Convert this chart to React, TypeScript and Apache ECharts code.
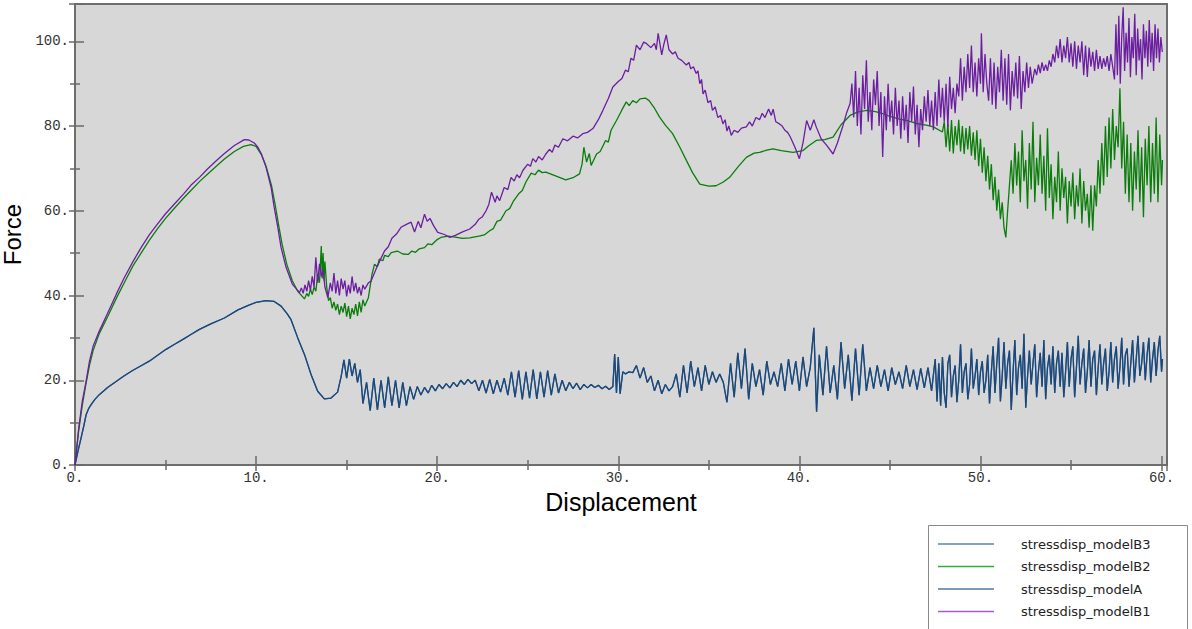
import { useEffect, useRef } from "react";
import * as echarts from "echarts";

// Displacement / force pairs for each model
const modelA: [number, number][] = [
  [0, 0], [0.15, 3], [0.33, 6.3], [0.5, 9.5], [0.61, 11.8], [0.75, 13.3], [0.9, 14.3], [1.1, 15.5], [1.34, 16.6],
  [1.8, 18.3], [2.27, 19.7], [2.7, 21], [3.18, 22.3], [3.6, 23.3], [4.1, 24.5], [4.6, 26], [5.03, 27.3], [5.5, 28.5],
  [5.94, 29.6], [6.4, 30.8], [6.87, 32], [7.5, 33.3], [8.25, 34.7], [9, 36.6], [9.54, 37.6], [10, 38.4], [10.55, 38.8],
  [11, 38.6], [11.38, 37.5], [11.7, 35.8], [11.93, 34.3], [12.3, 30], [12.67, 26.1], [13.04, 21.3], [13.4, 17.4],
  [13.77, 15.6], [14.14, 15.8], [14.5, 17.2],
  [14.7, 21], [14.85, 24.8], [15.0, 20.5], [15.15, 25], [15.3, 21], [15.45, 24], [15.6, 19.5], [15.75, 22.5],
  [15.9, 14.5], [16.1, 19.5], [16.3, 12.8], [16.5, 20.5], [16.7, 13], [16.9, 20], [17.1, 13.5], [17.3, 20.8],
  [17.5, 14], [17.7, 20], [17.9, 13.5], [18.1, 19.5], [18.3, 14],
  [18.5, 18.5], [18.7, 15.5], [18.9, 18.5], [19.1, 16.5], [19.3, 18.3], [19.5, 17], [19.7, 18.8], [19.9, 17.5],
  [20.1, 19], [20.3, 18], [20.5, 19.2], [20.7, 18.2], [20.9, 19.5], [21.1, 18.5], [21.3, 20], [21.5, 19],
  [21.7, 20.2], [21.9, 19.2], [22.1, 20],
  [22.3, 17.5], [22.5, 20], [22.7, 17], [22.9, 20.2], [23.1, 16.8], [23.3, 20], [23.5, 17.2], [23.7, 20.5], [23.9, 16.5],
  [24.1, 22], [24.3, 16], [24.5, 22.3], [24.7, 15.5], [24.9, 22], [25.1, 15.8], [25.3, 22.5], [25.5, 15.6],
  [25.7, 22], [25.9, 16], [26.1, 22.3], [26.3, 16.5], [26.5, 21.5], [26.7, 17],
  [26.9, 20], [27.1, 17.5], [27.3, 19.5], [27.5, 18], [27.7, 19.3], [27.9, 17.8], [28.1, 19], [28.3, 18.2],
  [28.5, 19], [28.7, 18.3], [28.9, 18.8], [29.1, 18], [29.3, 18.6], [29.5, 17.8], [29.7, 18.5],
  [29.8, 26.2], [29.9, 17], [30.0, 25.5], [30.1, 16.8], [30.25, 22], [30.4, 21.5], [30.6, 22], [30.8, 21.8],
  [31.0, 23.5], [31.2, 20.5], [31.4, 23], [31.6, 19.5], [31.8, 21], [32.0, 17.5], [32.2, 20], [32.4, 16.8],
  [32.6, 19], [32.8, 17.5], [33.0, 18.5],
  [33.2, 21.5], [33.4, 16], [33.6, 23.5], [33.8, 17], [34.0, 24.5], [34.2, 18.5], [34.4, 23], [34.6, 17.5],
  [34.8, 23.5], [35.0, 19], [35.2, 22], [35.4, 19.5], [35.6, 21.5], [35.8, 19.5],
  [36.0, 14.8], [36.2, 24], [36.4, 16], [36.6, 26.5], [36.8, 18], [37.0, 27.5], [37.2, 15.5], [37.4, 24],
  [37.6, 18.5], [37.8, 22.5], [38.0, 16.5], [38.2, 24.5], [38.4, 19], [38.6, 22],
  [38.8, 18.5], [39.0, 24], [39.2, 17.5], [39.4, 25], [39.6, 19], [39.8, 24.5], [40.0, 17.5], [40.2, 25.5],
  [40.4, 18.5], [40.6, 23], [40.8, 32.4], [40.95, 12.6], [41.1, 26],
  [41.3, 16.5], [41.5, 28], [41.7, 17], [41.9, 23.5], [42.1, 15.5], [42.3, 29], [42.5, 18], [42.7, 26],
  [42.9, 15.2], [43.1, 27.5], [43.3, 16.5], [43.5, 28.5], [43.7, 17.5], [43.9, 23],
  [44.1, 18], [44.3, 23.5], [44.5, 18.5], [44.7, 22.5], [44.9, 17.5], [45.1, 23], [45.3, 19], [45.5, 22],
  [45.7, 18], [45.9, 23.5], [46.1, 18.5], [46.3, 22.5], [46.5, 17.8], [46.7, 22.8], [46.9, 18.2], [47.1, 23],
  [47.3, 17.5],
  [47.5, 25], [47.6, 15], [47.7, 24], [47.8, 14], [47.9, 25.5], [48.0, 17], [48.1, 13.5], [48.2, 24], [48.3, 26],
  [48.4, 16], [48.5, 21], [48.6, 23.5], [48.7, 14.8], [48.8, 20], [48.9, 28.5], [49.0, 17], [49.1, 22], [49.2, 24],
  [49.3, 15.5], [49.4, 19], [49.5, 27.5], [49.6, 18], [49.7, 21], [49.8, 25], [49.9, 16.5], [50.0, 22], [50.1, 24.5],
  [50.2, 17], [50.3, 20], [50.4, 26], [50.5, 14.5], [50.6, 22], [50.7, 28], [50.8, 17], [50.9, 24], [51.0, 30],
  [51.1, 15], [51.2, 21], [51.3, 29], [51.4, 18], [51.5, 24], [51.6, 27], [51.7, 13], [51.8, 22], [51.9, 29.5],
  [52.0, 16.5], [52.1, 23], [52.2, 26], [52.3, 18], [52.4, 31], [52.5, 13.5], [52.6, 21], [52.7, 27], [52.8, 19],
  [52.9, 24], [53.0, 28.5], [53.1, 16], [53.2, 22], [53.3, 26.5], [53.4, 18.5], [53.5, 29.5], [53.6, 15.5],
  [53.7, 23], [53.8, 26], [53.9, 19], [54.0, 28], [54.1, 17], [54.2, 24], [54.3, 27], [54.4, 18.5], [54.5, 26.5],
  [54.6, 16], [54.7, 22], [54.8, 29], [54.9, 18.5], [55.0, 25], [55.1, 28], [55.2, 16], [55.3, 23], [55.4, 30.5],
  [55.5, 19], [55.6, 24], [55.7, 27.5], [55.8, 17], [55.9, 22], [56.0, 29.5], [56.1, 18.5], [56.2, 25], [56.3, 27],
  [56.4, 16.5], [56.5, 23], [56.6, 28.5], [56.7, 19], [56.8, 24], [56.9, 27.5], [57.0, 17.5], [57.1, 22], [57.2, 29],
  [57.3, 19.5], [57.4, 25], [57.5, 28], [57.6, 18], [57.7, 23], [57.8, 30], [57.9, 19], [58.0, 26], [58.1, 27.5],
  [58.2, 18.5], [58.3, 24], [58.4, 29.5], [58.5, 19.5], [58.6, 25], [58.7, 30.5], [58.8, 21], [58.9, 24], [59.0, 29],
  [59.1, 20], [59.2, 26], [59.3, 30], [59.4, 19.5], [59.5, 25], [59.6, 29], [59.7, 21], [59.8, 27], [59.9, 30.5],
  [60.0, 22], [60.05, 25],
];

// modelB3 follows the same response as modelA and is drawn beneath it
const modelB3: [number, number][] = modelA;

const modelB2: [number, number][] = [
  [0, 0], [0.2, 8], [0.4, 14], [0.6, 19], [0.8, 23.5], [1.0, 27], [1.34, 31], [1.8, 35], [2.3, 39.5], [2.72, 43],
  [3.2, 47], [3.65, 50], [4.1, 53], [4.56, 55.8], [5, 58.2], [5.49, 60.6], [6, 63], [6.4, 64.8], [6.9, 67],
  [7.33, 68.7], [7.8, 70.5], [8.25, 72.2], [8.8, 74], [9.3, 75.2], [9.72, 75.6], [10.0, 75.2], [10.3, 73.2],
  [10.55, 70.5], [10.85, 66], [11.05, 61.5], [11.25, 56.5], [11.45, 51.8], [11.7, 47.3], [12.0, 43.5], [12.3, 41],
  [12.67, 39.2],
  [12.8, 40.5], [12.9, 39.8], [13.0, 41.5], [13.1, 40.2], [13.2, 42], [13.3, 41], [13.4, 45], [13.5, 43],
  [13.6, 51.7], [13.65, 44], [13.7, 50], [13.75, 43.5], [13.8, 48], [13.9, 42], [14.0, 38.8],
  [14.1, 39.5], [14.2, 37], [14.3, 38.5], [14.4, 36.5], [14.5, 38], [14.6, 35.5], [14.7, 37.5], [14.8, 36],
  [14.9, 38.2], [15.0, 35], [15.1, 37.5], [15.2, 34.5], [15.3, 37], [15.4, 35.5], [15.5, 38], [15.6, 35.2],
  [15.7, 38.5], [15.8, 36], [15.9, 39], [16.0, 37.5], [16.2, 39.5],
  [16.4, 45], [16.54, 47.4], [16.7, 46.8], [16.8, 48.6], [17.0, 48.2], [17.1, 49.5], [17.3, 49.2], [17.46, 50.1],
  [17.8, 50.5], [18.1, 49.8], [18.4, 49.7], [18.6, 50.5], [18.8, 50.2], [19.0, 51], [19.3, 51.3], [19.5, 52.2],
  [19.7, 52], [20.0, 53.2], [20.2, 53.7], [20.6, 54], [21.0, 53.8], [21.4, 53.5], [21.8, 53.6], [22.3, 54],
  [22.6, 54.3], [22.9, 55.3], [23.1, 55.8], [23.3, 57.5], [23.5, 57.8], [23.8, 60], [24.0, 60.5], [24.2, 62.2],
  [24.5, 64], [24.7, 64.8], [24.9, 66.8], [25.19, 68.9], [25.4, 68.5], [25.6, 69.6], [25.8, 69], [26.0, 69.1],
  [26.5, 68.3], [27.1, 67.3], [27.5, 67.8], [27.86, 68.7], [28.0, 71], [28.1, 75], [28.25, 71.5], [28.4, 73.5],
  [28.5, 70.7], [28.8, 73.4], [29.0, 74], [29.3, 76.6], [29.45, 76.2], [29.6, 79], [29.9, 81.3], [30.2, 83.8],
  [30.44, 85.7], [30.6, 84.8], [30.8, 86], [31.0, 85.5], [31.2, 86.4], [31.5, 86.6], [31.7, 86], [32.0, 84.2],
  [32.28, 82.1], [32.6, 80.2], [33.0, 78.2], [33.4, 75], [33.76, 71.9], [34.1, 69], [34.5, 66.3], [35.0, 65.8],
  [35.4, 65.9], [35.8, 66.8], [36.15, 67.9], [36.6, 70.3], [37.07, 72.6], [37.5, 73.6], [37.8, 73.8], [38.2, 74.3],
  [38.54, 74.6], [39.0, 74.2], [39.65, 73.8], [40.2, 74.2], [40.5, 75.3], [40.93, 76.6], [41.4, 76.8], [41.86, 77.4],
  [42.3, 80.3], [42.8, 82.5], [43.2, 83.3], [43.7, 83.7], [44.2, 83.4], [44.6, 82.9], [45.0, 82.3], [45.5, 81.7],
  [46.0, 81.2], [46.46, 80.6], [47.0, 80.2], [47.4, 79.8], [47.9, 78.6],
  [48.0, 81], [48.1, 75], [48.2, 80.5], [48.3, 74], [48.4, 81.4], [48.5, 73.5], [48.6, 80], [48.7, 75.5],
  [48.8, 81.5], [48.9, 74], [49.0, 80], [49.1, 73.4], [49.2, 79.5], [49.3, 74.5], [49.4, 80], [49.5, 73],
  [49.6, 78.5], [49.7, 72], [49.8, 79], [49.9, 70.5],
  [50.0, 77], [50.1, 69], [50.2, 75], [50.3, 67], [50.4, 73], [50.5, 65], [50.6, 71], [50.7, 62.5], [50.8, 68],
  [50.9, 60], [51.0, 65], [51.1, 58], [51.2, 62], [51.3, 56], [51.4, 53.7], [51.5, 60], [51.6, 66],
  [51.7, 71.9], [51.8, 64], [51.9, 76], [52.0, 66], [52.1, 74], [52.2, 62], [52.3, 79], [52.4, 67], [52.5, 72],
  [52.6, 60.5], [52.7, 76], [52.8, 65], [52.9, 81], [53.0, 62], [53.1, 72.5], [53.2, 66], [53.3, 78], [53.4, 64],
  [53.5, 73], [53.6, 60], [53.7, 79.5], [53.8, 63], [53.9, 71], [54.0, 58], [54.1, 68], [54.2, 62], [54.3, 74],
  [54.4, 60], [54.5, 70], [54.6, 63], [54.7, 68], [54.8, 57], [54.9, 67], [55.0, 61], [55.1, 69], [55.2, 58],
  [55.3, 66], [55.4, 61], [55.5, 70], [55.6, 57], [55.7, 67], [55.8, 60], [55.9, 64], [56.0, 56], [56.1, 66],
  [56.2, 55.3],
  [56.3, 66], [56.4, 61], [56.5, 72], [56.6, 64], [56.7, 76], [56.8, 66], [56.9, 80], [57.0, 68], [57.1, 82],
  [57.2, 70], [57.3, 84], [57.4, 72], [57.5, 80], [57.6, 75], [57.7, 88.9], [57.8, 70], [57.9, 81],
  [58.0, 64], [58.1, 78], [58.2, 62], [58.3, 76], [58.4, 60], [58.5, 74], [58.6, 65], [58.7, 79], [58.8, 62],
  [58.9, 75], [59.0, 58.5], [59.1, 77], [59.2, 66], [59.3, 80], [59.4, 62], [59.5, 76], [59.6, 64], [59.7, 82],
  [59.8, 62], [59.9, 78], [60.0, 66], [60.05, 72],
];

const modelB1: [number, number][] = [
  [0, 0], [0.2, 8.5], [0.4, 15], [0.61, 19.7], [0.8, 24.5], [1.0, 28], [1.34, 31.6], [1.8, 35.8], [2.3, 40.5],
  [2.72, 44.2], [3.2, 48], [3.65, 51.3], [4.1, 54.3], [4.56, 56.9], [5.0, 59.3], [5.49, 61.6], [6.0, 64], [6.4, 66],
  [6.9, 68], [7.33, 69.9], [7.8, 71.8], [8.25, 73.5], [8.8, 75.4], [9.35, 76.8], [9.6, 76.7], [9.9, 76], [10.1, 75],
  [10.28, 73.5], [10.55, 70.3], [10.83, 65.5], [11.0, 60.8], [11.2, 56.1], [11.38, 51.3], [11.66, 46.6], [12.0, 42.7],
  [12.4, 40.7],
  [12.5, 41.8], [12.6, 40.5], [12.7, 42.5], [12.8, 41], [12.9, 43.5], [13.0, 41.2], [13.1, 44.5], [13.2, 42],
  [13.3, 49], [13.4, 43], [13.5, 47.5], [13.6, 44.5], [13.7, 46], [13.8, 42], [13.96, 39.5],
  [14.1, 43], [14.2, 41], [14.3, 45.3], [14.4, 40.5], [14.5, 43.5], [14.6, 40], [14.7, 44], [14.8, 41.5],
  [14.9, 43.5], [15.0, 39.8], [15.1, 42.5], [15.2, 40.5], [15.3, 44.5], [15.4, 41], [15.5, 43], [15.6, 40.5],
  [15.7, 42], [15.8, 40], [15.9, 42.5], [16.0, 41.5], [16.2, 43],
  [16.35, 43.4], [16.7, 47], [17.09, 50.5], [17.3, 51.5], [17.5, 53.5], [17.75, 54.5], [18.0, 56.1], [18.3, 56.8],
  [18.56, 57.3], [18.75, 55], [18.95, 57.5], [19.1, 56], [19.3, 59.2], [19.45, 57.5], [19.6, 58.2], [19.8, 56.5],
  [20.03, 54.9], [20.4, 54.4], [20.7, 53.7], [21.0, 54.2], [21.4, 55], [21.8, 55.7], [22.1, 56.8], [22.3, 58],
  [22.5, 58.6], [22.7, 60], [22.85, 61.5], [23.0, 64.4], [23.2, 62], [23.3, 63.5], [23.45, 62.4], [23.7, 65.5],
  [23.9, 65], [24.08, 67.9], [24.25, 67], [24.4, 68.5], [24.55, 67.8], [24.73, 69.5], [25.0, 71], [25.15, 70.5],
  [25.28, 72.3], [25.45, 71.5], [25.6, 72.8], [25.8, 72], [26.0, 73.4], [26.2, 74.5], [26.35, 73.8], [26.5, 75.5],
  [26.7, 75], [26.94, 77], [27.2, 76.5], [27.5, 77.6], [27.75, 77.2], [28.04, 78.2], [28.3, 78.5], [28.6, 79.4],
  [28.9, 81.5], [29.15, 83.7], [29.45, 86.5], [29.7, 89.2], [30.0, 90.5], [30.2, 91.2], [30.4, 93.2], [30.55, 92.8],
  [30.7, 96], [30.85, 95.5], [31.0, 99.1], [31.2, 98], [31.4, 99.8], [31.55, 99.5], [31.8, 98.5], [32.0, 99.5],
  [32.1, 98], [32.2, 101.9], [32.4, 96.8], [32.5, 99], [32.65, 101.5], [32.8, 98], [33.0, 97], [33.15, 97.5],
  [33.3, 96], [33.5, 95.5], [33.76, 94.4], [33.9, 95], [34.0, 93.5], [34.15, 94], [34.3, 92.4], [34.4, 93],
  [34.5, 90], [34.6, 91], [34.68, 87.6], [34.8, 88.5], [34.95, 85.5], [35.1, 86], [35.2, 83.7], [35.35, 84.5],
  [35.5, 82], [35.65, 82.5], [35.78, 80.5], [35.9, 81.5], [36.0, 78.8], [36.1, 80], [36.24, 77.8], [36.4, 79],
  [36.6, 78.5], [36.8, 79.5], [37.07, 79.8], [37.25, 81], [37.4, 80], [37.6, 82], [37.8, 81.5], [37.95, 83],
  [38.1, 82], [38.3, 84], [38.45, 82.5], [38.55, 84], [38.7, 81], [38.9, 80.5], [39.05, 80], [39.2, 79],
  [39.35, 78.5], [39.5, 77.4], [39.65, 76], [39.8, 74.5], [40.0, 72.3], [40.2, 76], [40.4, 81.3], [40.6, 79],
  [40.8, 81.5], [40.93, 79.8], [41.2, 77], [41.5, 75.5], [41.86, 73.4], [42.1, 76], [42.4, 80], [42.6, 83],
  [42.8, 85.3],
  [42.9, 90], [43.0, 82], [43.1, 93], [43.2, 80], [43.3, 89], [43.4, 78], [43.5, 92], [43.6, 84], [43.7, 95.5],
  [43.8, 81], [43.9, 88], [44.0, 79], [44.1, 91], [44.2, 85], [44.3, 93], [44.4, 80], [44.5, 88], [44.6, 72.7],
  [44.7, 87], [44.8, 79], [44.9, 90], [45.0, 81], [45.1, 86], [45.2, 78], [45.3, 89], [45.4, 80], [45.5, 86],
  [45.6, 77], [45.7, 87], [45.8, 79], [45.9, 85], [46.0, 76], [46.1, 88], [46.2, 81], [46.3, 89.3], [46.4, 78],
  [46.5, 85], [46.6, 75], [46.7, 84], [46.8, 79], [46.9, 87], [47.0, 81], [47.1, 88.5], [47.2, 80], [47.3, 86],
  [47.4, 79],
  [47.5, 88], [47.6, 80], [47.7, 91], [47.8, 82], [47.9, 89], [48.0, 81], [48.1, 90], [48.2, 79.8], [48.3, 91.6],
  [48.4, 84], [48.5, 89], [48.6, 83], [48.7, 90],
  [48.8, 87], [48.9, 96], [49.0, 86], [49.1, 94], [49.2, 88], [49.3, 97], [49.4, 89], [49.5, 99], [49.6, 88],
  [49.7, 95], [49.8, 87], [49.9, 96], [50.0, 90], [50.05, 101.9], [50.15, 88], [50.25, 97], [50.35, 90],
  [50.45, 86], [50.55, 96], [50.65, 85], [50.75, 95], [50.85, 84], [50.95, 94], [51.05, 88], [51.15, 98],
  [51.25, 86], [51.35, 96], [51.45, 85], [51.55, 97], [51.65, 83.7], [51.75, 93], [51.85, 87], [51.95, 95],
  [52.05, 86.5], [52.15, 96.5], [52.25, 84], [52.35, 93], [52.45, 88], [52.55, 95], [52.65, 89], [52.75, 94],
  [52.85, 90],
  [53.0, 93.5], [53.1, 92], [53.2, 94.5], [53.3, 92.5], [53.4, 95], [53.5, 93], [53.6, 94.5], [53.7, 93],
  [53.8, 95.5], [53.9, 94],
  [54.0, 97], [54.1, 95], [54.2, 99], [54.3, 96], [54.4, 100.5], [54.5, 95], [54.6, 99], [54.7, 96], [54.8, 101],
  [54.9, 95], [55.0, 99.5], [55.1, 94], [55.2, 100], [55.3, 93.5], [55.4, 99], [55.5, 95], [55.6, 100], [55.7, 92],
  [55.8, 99], [55.9, 91.6], [56.0, 98.5], [56.1, 94], [56.2, 97.5], [56.3, 93], [56.4, 98], [56.5, 93.5],
  [56.6, 96.5], [56.7, 93.5], [56.8, 96], [56.9, 94], [57.0, 96.5], [57.1, 93], [57.2, 97], [57.3, 94],
  [57.4, 91], [57.48, 104], [57.56, 92], [57.64, 106], [57.72, 90], [57.8, 101], [57.88, 108], [57.96, 93],
  [58.04, 102], [58.12, 95], [58.2, 105.5], [58.28, 91.5], [58.36, 101], [58.44, 96], [58.52, 106.5], [58.6, 92],
  [58.68, 103], [58.76, 95.5], [58.84, 100.5], [58.92, 91], [59.0, 104], [59.08, 96], [59.16, 102.5], [59.24, 94],
  [59.32, 105], [59.4, 95], [59.48, 102], [59.56, 93], [59.64, 104], [59.72, 96], [59.8, 103], [59.88, 95],
  [59.96, 101], [60.04, 97.5],
];

const seriesNames = ["stressdisp_modelB3", "stressdisp_modelB2", "stressdisp_modelA", "stressdisp_modelB1"];
const seriesData = [modelB3, modelB2, modelA, modelB1];
const lineColors = ["#3d6a9a", "#0b7d0b", "#1b4878", "#6b1fa0"];
const legendColors = ["#5b82ad", "#3aa83a", "#55799f", "#a45cd6"];

const X_MIN = 0;
const X_MAX = 60.3;
const X_STEP = 10;
const Y_MIN = 0;
const Y_MAX = 108.8;
const Y_STEP = 20;

const tickFont = { fontFamily: "Liberation Mono", fontSize: 14, color: "#333" };
const onStep = (v: number, step: number) => Math.abs(v / step - Math.round(v / step)) < 1e-6;

export default function App() {
  const ref = useRef<HTMLDivElement>(null);

  useEffect(() => {
    if (!ref.current) return;
    const chart = echarts.init(ref.current, null, { renderer: "svg" });

    const frameTicks = {
      axisLine: { show: false },
      splitLine: { show: false },
      axisTick: { show: true, inside: true, length: 9, lineStyle: { color: "#6a6a6a", width: 1.5 } },
      minorTick: { show: true, splitNumber: 2, length: 5, lineStyle: { color: "#6a6a6a", width: 1.5 } },
    };

    chart.setOption({
      animation: false,
      backgroundColor: "#ffffff",
      grid: {
        left: 75,
        top: 4,
        right: 25,
        bottom: 164,
        outerBoundsMode: "none",
        containLabel: false,
        show: true,
        backgroundColor: "#d7d7d7",
        borderColor: "#6e6e6e",
        borderWidth: 2,
      },
      xAxis: [
        {
          type: "value",
          min: X_MIN,
          max: X_MAX,
          interval: X_STEP,
          name: "Displacement",
          nameLocation: "middle",
          nameGap: 22,
          nameTextStyle: { fontFamily: "Liberation Sans", fontSize: 25, color: "#000" },
          axisLabel: {
            ...tickFont,
            margin: 6,
            formatter: (v: number) => (onStep(v, X_STEP) ? `${v}.` : ""),
          },
          ...frameTicks,
        },
        {
          type: "value",
          position: "top",
          min: X_MIN,
          max: X_MAX,
          interval: X_STEP,
          axisLabel: { show: false },
          ...frameTicks,
          axisTick: { ...frameTicks.axisTick, length: 6 },
        },
      ],
      yAxis: [
        {
          type: "value",
          min: Y_MIN,
          max: Y_MAX,
          interval: Y_STEP,
          name: "Force",
          nameLocation: "middle",
          nameGap: 42,
          nameTextStyle: { fontFamily: "Liberation Sans", fontSize: 24, color: "#000" },
          axisLabel: {
            ...tickFont,
            margin: 6,
            formatter: (v: number) => (onStep(v, Y_STEP) ? `${v}.` : ""),
          },
          ...frameTicks,
        },
        {
          type: "value",
          position: "right",
          min: Y_MIN,
          max: Y_MAX,
          interval: Y_STEP,
          axisLabel: { show: false },
          ...frameTicks,
          axisTick: { ...frameTicks.axisTick, length: 6 },
        },
      ],
      legend: {
        orient: "vertical",
        left: 938,
        top: 536,
        padding: 0,
        itemWidth: 56,
        itemHeight: 1.5,
        itemGap: 6.5,
        icon: "rect",
        selectedMode: false,
        textStyle: {
          fontFamily: "DejaVu Sans",
          fontSize: 13,
          color: "#222",
          lineHeight: 16,
          padding: [0, 0, 0, 22],
        },
        data: seriesNames.map((name, i) => ({ name, itemStyle: { color: legendColors[i] } })),
      },
      graphic: [
        {
          type: "rect",
          left: 928,
          top: 525,
          z: -1,
          shape: { width: 259, height: 120 },
          style: { fill: "#ffffff", stroke: "#8a8a8a", lineWidth: 1 },
        },
      ],
      series: seriesNames.map((name, i) => ({
        name,
        type: "line",
        data: seriesData[i],
        xAxisIndex: 0,
        yAxisIndex: 0,
        showSymbol: false,
        symbol: "none",
        clip: true,
        lineStyle: { color: lineColors[i], width: 1.3 },
        itemStyle: { color: lineColors[i] },
        z: 2 + i,
      })),
    });

    return () => chart.dispose();
  }, []);

  return (
    <div
      ref={ref}
      style={{ position: "fixed", left: 0, top: 0, width: 1192, height: 629, background: "#fff" }}
    />
  );
}
